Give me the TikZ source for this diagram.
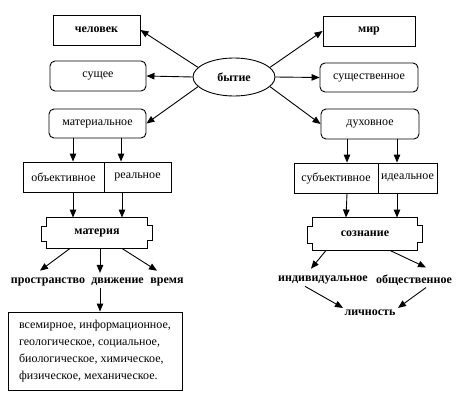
\documentclass[tikz,border=0pt]{standalone}
\usepackage{fontspec}
\setmainfont{Liberation Serif}
\usetikzlibrary{arrows.meta,shapes.geometric}
\begin{document}
\begin{tikzpicture}[x=1pt,y=-1pt,
  box/.style={draw,line width=0.9pt,minimum height=30pt,inner sep=0pt,font=\fontsize{12}{14}\selectfont},
  bbox/.style={box,font=\fontsize{12}{14}\selectfont\bfseries},
  rbox/.style={box,rounded corners=5pt},
  arr/.style={line width=0.9pt,-{Triangle[length=8pt,width=6.5pt]}},
  word/.style={inner xsep=1pt,inner ysep=2pt,font=\fontsize{12}{14}\selectfont\bfseries},
  outline/.style={line width=0.9pt}
]
\useasboundingbox (0,0) rectangle (466,404);

% top nodes
\node[bbox,minimum width=87pt] (chelovek) at (96.5,30) {человек};
\node[rbox,minimum width=96pt] (sushchee) at (98,76) {сущее};
\node[rbox,minimum width=97pt,minimum height=29pt] (material) at (97.5,123.5) {материальное};
\node[draw,ellipse,line width=0.9pt,minimum width=82pt,minimum height=38pt,inner sep=0pt,font=\fontsize{12}{14}\selectfont\bfseries] (bytie) at (234,77) {бытие};
\node[bbox,minimum width=92pt] (mir) at (369,31) {мир};
\node[rbox,minimum width=98pt,minimum height=29pt] (sushch) at (369,77.5) {существенное};
\node[rbox,minimum width=98pt] (dukh) at (370,124) {духовное};

% split boxes
\node[box,minimum width=81pt] (obj) at (63.5,177) {объективное};
\node[box,minimum width=67pt] (real) at (137.5,177) {реальное};
\node[box,minimum width=84pt] (subj) at (336,178) {субъективное};
\node[box,minimum width=59pt] (ideal) at (407.5,178) {идеальное};

% tab boxes
\node[bbox,draw=none,minimum width=100pt] (materia) at (97,233) {материя};
\draw[outline] (materia.north west) -- (materia.north east) -- ++(0,8) -- ++(5,0) -- ++(0,15) -- ++(-5,0)
  -- (materia.south east) -- (materia.south west) -- ++(0,-7) -- ++(-5,0) -- ++(0,-15) -- ++(5,0) -- cycle;
\node[bbox,draw=none,minimum width=104pt,minimum height=32pt] (soznanie) at (365,234) {сознание};
\draw[outline] (soznanie.north west) -- (soznanie.north east) -- ++(0,8) -- ++(5,0) -- ++(0,17) -- ++(-5,0)
  -- (soznanie.south east) -- (soznanie.south west) -- ++(0,-7) -- ++(-5,0) -- ++(0,-17) -- ++(5,0) -- cycle;

% words
\node[word] (prostr) at (48,282) {пространство};
\node[word] (dvizh) at (117.5,282) {движение};
\node[word] (vremya) at (167,282) {время};
\node[word] (indiv) at (323,280) {индивидуальное};
\node[word] (obshch) at (414,280) {общественное};
\node[word] (lichn) at (370,313) {личность};

% list box
\node[draw,line width=0.9pt,minimum width=174pt,minimum height=78pt,inner sep=0pt,align=left,
  font=\fontsize{12}{16.8}\selectfont] (list) at (95,351)
  {всемирное, информационное,\\геологическое, социальное,\\биологическое, химическое,\\физическое, механическое.};

% arrows from bytie
\draw[arr] (bytie.165) -- (chelovek.east);
\draw[arr] (bytie.west) -- (sushchee.east);
\draw[arr] (bytie.195) -- (material.east);
\draw[arr] (bytie.15) -- (mir.west);
\draw[arr] (bytie.east) -- (sushch.west);
\draw[arr] (bytie.-15) -- (dukh.west);

% left column
\draw[arr] ([xshift=-24.5pt]material.south) -- ([xshift=9.5pt]obj.north);
\draw[arr] ([xshift=23.5pt]material.south) -- ([xshift=-16.5pt]real.north);
\draw[arr] ([xshift=9.5pt]obj.south) -- ([xshift=-24pt]materia.north);
\draw[arr] ([xshift=-15.5pt]real.south) -- ([xshift=25pt]materia.north);
\draw[arr] ([xshift=-27pt]materia.south) -- ([xshift=-8pt,yshift=5pt]prostr.north);
\draw[arr] ([xshift=3pt]materia.south) -- ([xshift=-17.5pt,yshift=3pt]dvizh.north);
\draw[arr] ([xshift=25pt]materia.south) -- ([xshift=-10pt,yshift=5pt]vremya.north);
\draw[arr] ([xshift=-17.5pt]dvizh.south) -- ([xshift=5pt]list.north);

% right column
\draw[arr] ([xshift=-23pt]dukh.south) -- ([xshift=11pt]subj.north);
\draw[arr] ([xshift=27pt]dukh.south) -- ([xshift=-10.5pt]ideal.north);
\draw[arr] ([xshift=11pt]subj.south) -- ([xshift=-19pt]soznanie.north);
\draw[arr] ([xshift=-10.5pt]ideal.south) -- ([xshift=32pt]soznanie.north);
\draw[arr] ([xshift=-39pt]soznanie.south) -- ([xshift=-12pt,yshift=5pt]indiv.north);
\draw[arr] ([xshift=25pt]soznanie.south) -- ([xshift=12pt,yshift=5pt]obshch.north);
\draw[arr] ([xshift=-18pt]indiv.south) -- ([xshift=-27pt]lichn.north);
\draw[arr] ([xshift=12pt]obshch.south) -- ([xshift=28pt]lichn.north);
\end{tikzpicture}
\end{document}
